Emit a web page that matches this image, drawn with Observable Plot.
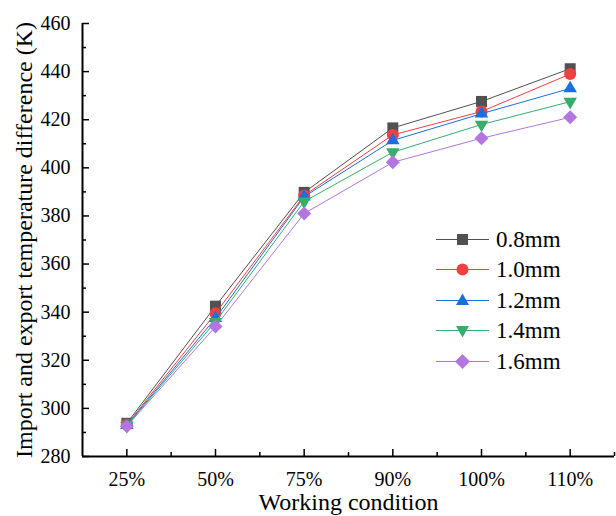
<!DOCTYPE html>
<html><head><meta charset="utf-8">
<script src="https://cdn.jsdelivr.net/npm/d3@7"></script>
<script src="https://cdn.jsdelivr.net/npm/@observablehq/plot@0.6"></script>
<style>
body{margin:0;background:#fff;}
#wrap{position:relative;width:616px;height:516px;font-family:'Liberation Serif','Times New Roman','DejaVu Serif',serif;}
#wrap svg text{font-family:'Liberation Serif','Times New Roman','DejaVu Serif',serif !important;}
#legend{position:absolute;left:434px;top:224px;}
.row{display:flex;align-items:center;height:30.5px;font-size:23px;color:#000;line-height:1;font-family:'Liberation Serif','Times New Roman','DejaVu Serif',serif;}
.row svg{margin-right:5px;display:block}
</style></head><body><div id="wrap"><div id="legend"></div></div>
<script>
const conditions = ["25%","50%","75%","90%","100%","110%"];
const seriesNames = ["0.8mm","1.0mm","1.2mm","1.4mm","1.6mm"];
const s08 = [293.8, 342.5, 389.8, 416.6, 427.6, 441.2];
const s10 = [293.3, 339.5, 388.5, 413.7, 423.4, 439.0];
const s12 = [293.0, 337.5, 388.0, 411.4, 422.5, 433.0];
const s14 = [292.8, 336.0, 386.0, 406.5, 418.0, 427.5];
const s16 = [292.6, 334.0, 381.0, 402.3, 412.3, 421.0];
const yMajor = [280,300,320,340,360,380,400,420,440,460];
const yMinor = [290,310,330,350,370,390,410,430,450];

const colors = ["#515151","#F14040","#1A6FDF","#37AD6B","#B177DE"];
const symbols = ["square","circle","triangle","triangle","square"];
const rotates = [0,0,0,180,45];
const radii = [6.2,6,5,5,5.6];
const values = [s08,s10,s12,s14,s16];

const xIdx = conditions.map((c,i)=>i);
const xMinor = [0.5,1.5,2.5,3.5,4.5,5.5];

const marks = [];
values.forEach((vals,k)=>{
  const rows = vals.map((v,i)=>({i, v}));
  marks.push(Plot.line(rows, {x:"i", y:"v", stroke:colors[k], strokeWidth:1}));
  marks.push(Plot.dot(rows, {x:"i", y:"v", fill:colors[k], stroke:"none", symbol:symbols[k], rotate:rotates[k], r:radii[k]}));
});

const FF = "Liberation Serif, Times New Roman, serif";
const chart = Plot.plot({
  width:616, height:516,
  marginLeft:82, marginRight:2, marginTop:23, marginBottom:60,
  style:"font-family:'Liberation Serif','Times New Roman',serif;font-size:20px;color:#000;background:#fff;",
  x:{domain:[-0.5,5.5]},
  y:{domain:[280,460]},
  marks:[
    Plot.axisY(yMajor, {tickSize:0, tickPadding:12, fontSize:20, fontFamily:FF, label:null}),
    Plot.axisY(yMajor, {tickSize:-7, fill:"none", label:null, strokeWidth:1.5}),
    Plot.axisY(yMinor, {tickSize:-4, fill:"none", label:null, strokeWidth:1.5}),
    Plot.axisX(xIdx, {tickSize:0, tickPadding:15, fontSize:20, fontFamily:FF, tickFormat:i=>conditions[i], label:null}),
    Plot.axisX(xIdx, {tickSize:-7, fill:"none", label:null, strokeWidth:1.5}),
    Plot.axisX(xMinor, {tickSize:-4, fill:"none", label:null, strokeWidth:1.5}),
    ...marks,
    Plot.ruleX([-0.5], {stroke:"#000", strokeWidth:2}),
    Plot.ruleY([280], {stroke:"#000", strokeWidth:2}),
    Plot.text(["Import and export temperature difference (K)"], {text:d=>d, frameAnchor:"left", textAnchor:"middle", rotate:-90, dx:-58, fontSize:24, fontFamily:FF}),
    Plot.text(["Working condition"], {text:d=>d, frameAnchor:"bottom", dy:53, fontSize:24, fontFamily:FF})
  ]
});
document.getElementById("wrap").prepend(chart);

// legend
const legend = document.getElementById("legend");
const sym = [
  (c)=>`<rect x="23" y="5" width="11" height="11" fill="${c}"/>`,
  (c)=>`<circle cx="28.5" cy="10.5" r="6" fill="${c}"/>`,
  (c)=>`<path d="M28.5,3.5 L35,15 L22,15 Z" fill="${c}"/>`,
  (c)=>`<path d="M28.5,17.5 L35,6 L22,6 Z" fill="${c}"/>`,
  (c)=>`<path d="M28.5,3 L36,10.5 L28.5,18 L21,10.5 Z" fill="${c}"/>`
];
seriesNames.forEach((n,k)=>{
  const row = document.createElement("div");
  row.className = "row";
  row.innerHTML = `<svg width="57" height="21"><line x1="2" x2="55" y1="10.5" y2="10.5" stroke="${colors[k]}" stroke-width="1.2"/>${sym[k](colors[k])}</svg><span>${n}</span>`;
  legend.appendChild(row);
});
</script>
</body></html>
